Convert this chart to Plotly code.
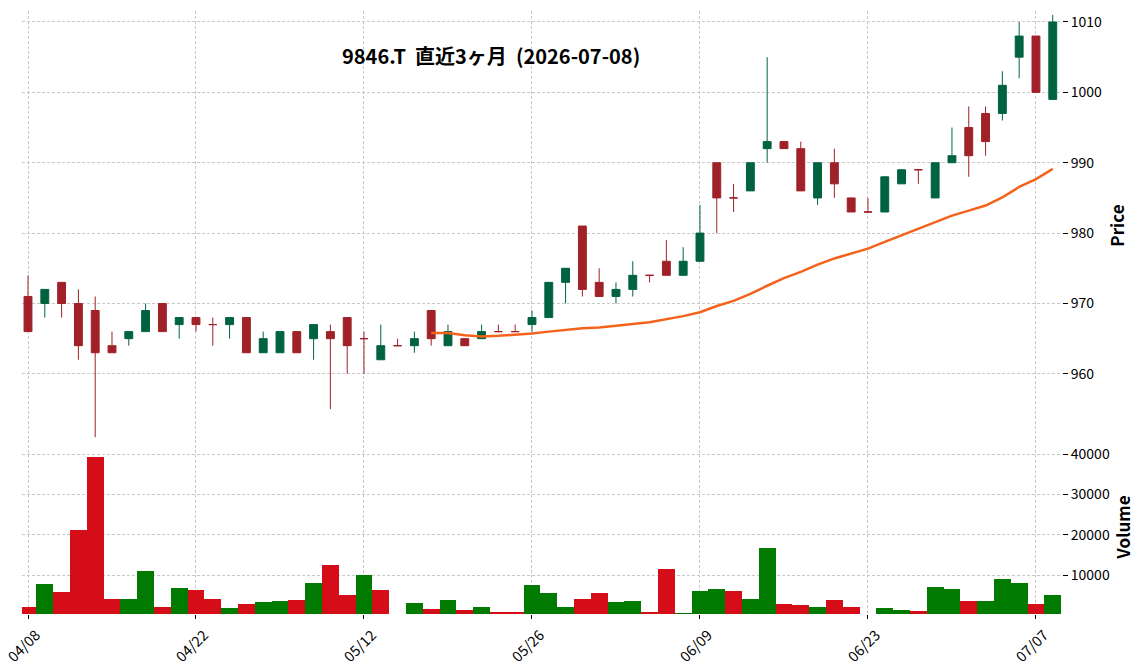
import plotly.graph_objects as go
import pandas as pd

# ---- data ----
dates = ["04/08","04/09","04/10","04/13","04/14","04/15","04/16","04/17","04/20","04/21",
         "04/22","04/23","04/24","04/27","04/28","04/30","05/01","05/07","05/08","05/11",
         "05/12","05/13","05/14","05/15","05/18","05/19","05/20","05/21","05/22","05/25",
         "05/26","05/27","05/28","05/29","06/01","06/02","06/03","06/04","06/05","06/08",
         "06/09","06/10","06/11","06/12","06/15","06/16","06/17","06/18","06/19","06/22",
         "06/23","06/24","06/25","06/26","06/29","06/30","07/01","07/02","07/03","07/06",
         "07/07","07/08"]

opens = [971,970,973,970,969,964,965,966,970,967,
         968,967,967,968,963,963,966,965,966,968,
         965,962,964,964,969,964,965,965,966,966,
         967,968,973,981,973,971,972,974,976,974,
         976,990,985,986,992,993,992,985,990,985,
         983,983,987,989,985,990,995,997,997,1005,
         1008,999]
highs = [974,972,973,972,971,966,966,970,970,968,
         968,968,968,968,966,966,966,967,967,968,
         966,967,965,966,969,967,965,967,967,967,
         969,973,975,981,975,973,976,974,979,978,
         984,990,987,990,1005,993,993,990,992,985,
         985,988,989,989,990,995,998,998,1003,1010,
         1008,1011]
lows = [966,968,968,962,951,963,964,966,966,965,
        966,964,965,963,963,963,963,962,955,960,
        960,962,964,963,964,964,964,965,966,966,
        966,968,970,971,971,970,971,973,974,974,
        976,980,983,986,990,992,986,984,985,983,
        983,983,987,987,985,990,988,991,996,1002,
        1000,999]
closes = [966,972,970,964,963,963,966,969,966,968,
          967,967,968,963,965,966,963,967,965,964,
          965,964,964,965,965,966,964,966,966,966,
          968,973,975,972,971,972,974,974,974,976,
          980,985,985,990,993,992,986,990,987,983,
          983,988,989,989,990,991,991,993,1001,1008,
          1000,1010]
volumes = [2100,7800,5800,21100,39300,4100,4100,11100,2100,6800,
           6300,4100,1800,2800,3300,3600,3800,8100,12600,5100,
           10100,6300,0,3100,1600,3800,1300,2100,800,800,
           7600,5600,2100,4100,5600,3300,3600,800,11600,600,
           6100,6600,6100,4100,16800,2800,2600,2100,3800,2100,
           0,1800,1300,1100,7100,6600,3600,3600,9100,8100,
           2800,5100]

tick_step = 10
ma_window = 25

# ---- styles ----
UP_C, DN_C = "#006340", "#A02128"
VUP_C, VDN_C = "#007a00", "#d50d18"
MA_C = "#f4621c"
FONT = "Noto Sans CJK JP"
GRID = "#c8c8c8"

idx = list(range(len(dates)))
up_i = [i for i in idx if closes[i] > opens[i]]
dn_i = [i for i in idx if not closes[i] > opens[i]]

vcol = []
for i in idx:
    ref = opens[i] if i == 0 else closes[i - 1]
    vcol.append(VUP_C if closes[i] > ref else VDN_C)

ma = pd.Series(closes, dtype=float).rolling(ma_window).mean()

fig = go.Figure()

def candle(sub, color):
    return go.Candlestick(
        x=sub, open=[opens[i] for i in sub], high=[highs[i] for i in sub],
        low=[lows[i] for i in sub], close=[closes[i] for i in sub],
        increasing=dict(line=dict(color=color, width=1), fillcolor=color),
        decreasing=dict(line=dict(color=color, width=1), fillcolor=color),
        whiskerwidth=0, showlegend=False, xaxis="x", yaxis="y", hoverinfo="skip")

fig.add_trace(candle(up_i, UP_C))
fig.add_trace(candle(dn_i, DN_C))
fig.add_trace(go.Scatter(x=idx, y=ma, mode="lines", line=dict(color=MA_C, width=2.5),
                         showlegend=False, xaxis="x", yaxis="y", hoverinfo="skip"))
fig.add_trace(go.Bar(x=idx, y=volumes, marker=dict(color=vcol, line=dict(width=0)),
                     width=1.0, showlegend=False, xaxis="x2", yaxis="y2", hoverinfo="skip"))

tickvals = idx[::tick_step]
ticktext = [dates[i] for i in tickvals]

ml, mr, mt, mb = 22, 82, 11, 56
H = 670
split = (614 - 440) / (H - mt - mb)

xcommon = dict(range=[-0.357, 61.55], tickmode="array", tickvals=tickvals,
               showgrid=True, gridcolor=GRID, griddash="3px,2px", gridwidth=1,
               zeroline=False, showline=False, automargin=False)

fig.update_layout(
    width=1144, height=H,
    margin=dict(l=ml, r=mr, t=mt, b=mb),
    paper_bgcolor="white", plot_bgcolor="white",
    font=dict(family=FONT, color="black", size=14),
    boxgap=0.33, bargap=0,
    xaxis=dict(xcommon, domain=[0, 1], anchor="y", showticklabels=False, ticks="",
               rangeslider=dict(visible=False), ticktext=ticktext),
    xaxis2=dict(xcommon, domain=[0, 1], anchor="y2", matches="x", ticktext=ticktext,
                showticklabels=True, ticks="outside", ticklen=4, tickcolor="black",
                tickangle=-45, ticklabelshift=8, ticklabelstandoff=2,
                ticklabeloverflow="allow",
                tickfont=dict(size=14.5, family=FONT)),
    yaxis=dict(domain=[split, 1], range=[950.6, 1011.56], side="right",
               tickvals=[960, 970, 980, 990, 1000, 1010], automargin=False,
               showgrid=True, gridcolor=GRID, griddash="3px,2px", gridwidth=1,
               zeroline=False, showline=False, ticks="outside", ticklen=5,
               tickcolor="black", tickfont=dict(size=14),
               title=dict(text="<b>Price</b>", font=dict(size=17), standoff=10)),
    yaxis2=dict(domain=[0, split], range=[400, 43466], side="right",
                tickvals=[10000, 20000, 30000, 40000], tickformat="d", automargin=False,
                showgrid=True, gridcolor=GRID, griddash="3px,2px", gridwidth=1,
                zeroline=False, showline=False, ticks="outside", ticklen=5,
                tickcolor="black", tickfont=dict(size=14),
                title=dict(text="<b>Volume</b>", font=dict(size=17), standoff=6)),
    annotations=[dict(text="<b>9846.T\u00a0\u00a0直近3ヶ月\u00a0\u00a0(2026-07-08)</b>",
                      xref="paper", yref="paper", x=(491 - ml) / (1144 - ml - mr),
                      y=1 - (55 - mt) / (H - mt - mb), xanchor="center", yanchor="middle",
                      showarrow=False, font=dict(size=20, family=FONT, color="black"))],
)

fig.write_html("out.html")
